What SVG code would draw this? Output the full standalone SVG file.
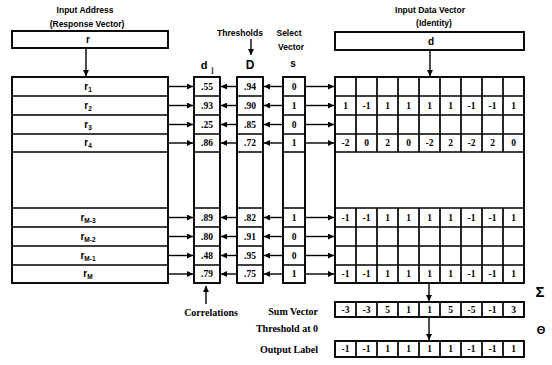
<svg xmlns="http://www.w3.org/2000/svg" width="552" height="365" viewBox="0 0 552 365">
<style>
  .box{fill:#fff;stroke:#000;stroke-width:1.9}
  .ln{stroke:#000;stroke-width:1.7;fill:none}
  .arr{stroke:#000;stroke-width:1.4;fill:none;marker-end:url(#ah)}
  .hd{font-family:"Liberation Sans",Arial,sans-serif;font-weight:bold;font-size:8.5px;text-anchor:middle;fill:#000}
  .lb{font-family:"Liberation Serif","Times New Roman",serif;font-weight:bold;font-size:10px;fill:#000}
  .cell{font-family:"Liberation Serif","Times New Roman",serif;font-weight:bold;font-size:9.5px;text-anchor:middle;fill:#000}
  .sym{font-family:"Liberation Sans",Arial,sans-serif;font-weight:bold;text-anchor:middle;fill:#000}
</style>
<defs>
  <marker id="ah" viewBox="0 0 10 10" refX="10" refY="5" markerWidth="7" markerHeight="6" orient="auto" markerUnits="userSpaceOnUse">
    <path d="M0,0 L10,5 L0,10 z" fill="#000"/>
  </marker>
</defs>

<g id="labels">
  <text class="hd" x="85" y="13">Input Address</text>
  <text class="hd" x="87" y="27">(Response Vector)</text>
  <text class="hd" x="240" y="36">Thresholds</text>
  <text class="hd" x="289" y="36">Select</text>
  <text class="hd" x="291" y="50">Vector</text>
  <text class="hd" x="430" y="13">Input Data Vector</text>
  <text class="hd" x="434" y="26">(Identity)</text>
  <text class="sym" x="207" y="69" font-size="11">d<tspan dx="4" dy="3" font-size="7">j</tspan></text>
  <text class="sym" x="250" y="69" font-size="12">D</text>
  <text class="sym" x="293" y="67" font-size="10">s</text>
  <text class="lb" x="211" y="316" text-anchor="middle">Correlations</text>
  <text class="lb" x="318" y="315" text-anchor="end">Sum Vector</text>
  <text class="lb" x="318" y="332" text-anchor="end" font-size="9">Threshold at 0</text>
  <text class="lb" x="318" y="353" text-anchor="end">Output Label</text>
  <text class="sym" x="540" y="297" font-size="15">Σ</text>
  <text class="sym" x="541" y="334" font-size="11">Θ</text>
</g>

<g id="input-address">
  <rect class="box" x="12" y="31" width="156" height="17"/>
  <text class="sym" x="88" y="43" font-size="10">r</text>
</g>

<g id="input-data">
  <rect class="box" x="335" y="32" width="189" height="18"/>
  <text class="sym" x="431" y="45" font-size="10">d</text>
</g>

<g id="address-rows">
  <rect class="box" x="12" y="77" width="156" height="206"/>
  <path class="ln" d="M12,96H168M12,115H168M12,134H168M12,152H168M12,208H168M12,227H168M12,246H168M12,265H168"/>
  <g class="sym" font-size="10">
    <text x="88" y="90">r<tspan font-size="6.5" dy="2">1</tspan></text>
    <text x="88" y="109">r<tspan font-size="6.5" dy="2">2</tspan></text>
    <text x="88" y="128">r<tspan font-size="6.5" dy="2">3</tspan></text>
    <text x="88" y="146">r<tspan font-size="6.5" dy="2">4</tspan></text>
    <text x="88" y="221">r<tspan font-size="6.5" dy="2">M-3</tspan></text>
    <text x="88" y="240">r<tspan font-size="6.5" dy="2">M-2</tspan></text>
    <text x="88" y="259">r<tspan font-size="6.5" dy="2">M-1</tspan></text>
    <text x="88" y="277">r<tspan font-size="6.5" dy="2">M</tspan></text>
  </g>
</g>

<g id="dj-column">
  <rect class="box" x="194" y="77" width="26" height="206"/>
  <path class="ln" d="M194,96H220M194,115H220M194,134H220M194,152H220M194,208H220M194,227H220M194,246H220M194,265H220"/>
  <g class="cell">
    <text x="207" y="90">.55</text><text x="207" y="109">.93</text><text x="207" y="128">.25</text><text x="207" y="146">.86</text>
    <text x="207" y="221">.89</text><text x="207" y="240">.80</text><text x="207" y="259">.48</text><text x="207" y="277">.79</text>
  </g>
</g>

<g id="D-column">
  <rect class="box" x="237" y="77" width="26" height="206"/>
  <path class="ln" d="M237,96H263M237,115H263M237,134H263M237,152H263M237,208H263M237,227H263M237,246H263M237,265H263"/>
  <g class="cell">
    <text x="250" y="90">.94</text><text x="250" y="109">.90</text><text x="250" y="128">.85</text><text x="250" y="146">.72</text>
    <text x="250" y="221">.82</text><text x="250" y="240">.91</text><text x="250" y="259">.95</text><text x="250" y="277">.75</text>
  </g>
</g>

<g id="s-column">
  <rect class="box" x="283" y="77" width="22" height="206"/>
  <path class="ln" d="M283,96H305M283,115H305M283,134H305M283,152H305M283,208H305M283,227H305M283,246H305M283,265H305"/>
  <g class="cell">
    <text x="294" y="90">0</text><text x="294" y="109">1</text><text x="294" y="128">0</text><text x="294" y="146">1</text>
    <text x="294" y="221">1</text><text x="294" y="240">0</text><text x="294" y="259">0</text><text x="294" y="277">1</text>
  </g>
</g>

<g id="data-matrix">
  <rect class="box" x="335" y="77" width="189" height="206"/>
  <path class="ln" d="M335,96H524M335,115H524M335,134H524M335,152H524M335,208H524M335,227H524M335,246H524M335,265H524"/>
  <path class="ln" d="M356,77V152M377,77V152M398,77V152M419,77V152M440,77V152M461,77V152M482,77V152M503,77V152M356,208V283M377,208V283M398,208V283M419,208V283M440,208V283M461,208V283M482,208V283M503,208V283"/>
  <g class="cell">
    <text x="345.5" y="109">1</text><text x="366.5" y="109">-1</text><text x="387.5" y="109">1</text><text x="408.5" y="109">1</text><text x="429.5" y="109">1</text><text x="450.5" y="109">1</text><text x="471.5" y="109">-1</text><text x="492.5" y="109">-1</text><text x="513.5" y="109">1</text>
    <text x="345.5" y="146">-2</text><text x="366.5" y="146">0</text><text x="387.5" y="146">2</text><text x="408.5" y="146">0</text><text x="429.5" y="146">-2</text><text x="450.5" y="146">2</text><text x="471.5" y="146">-2</text><text x="492.5" y="146">2</text><text x="513.5" y="146">0</text>
    <text x="345.5" y="221">-1</text><text x="366.5" y="221">-1</text><text x="387.5" y="221">1</text><text x="408.5" y="221">1</text><text x="429.5" y="221">1</text><text x="450.5" y="221">1</text><text x="471.5" y="221">-1</text><text x="492.5" y="221">-1</text><text x="513.5" y="221">1</text>
    <text x="345.5" y="277">-1</text><text x="366.5" y="277">-1</text><text x="387.5" y="277">1</text><text x="408.5" y="277">1</text><text x="429.5" y="277">1</text><text x="450.5" y="277">1</text><text x="471.5" y="277">-1</text><text x="492.5" y="277">-1</text><text x="513.5" y="277">1</text>
  </g>
</g>

<g id="sum-vector">
  <rect class="box" x="335" y="302" width="189" height="15"/>
  <path class="ln" d="M356,302V317M377,302V317M398,302V317M419,302V317M440,302V317M461,302V317M482,302V317M503,302V317"/>
  <g class="cell">
    <text x="345.5" y="313">-3</text><text x="366.5" y="313">-3</text><text x="387.5" y="313">5</text><text x="408.5" y="313">1</text><text x="429.5" y="313">1</text><text x="450.5" y="313">5</text><text x="471.5" y="313">-5</text><text x="492.5" y="313">-1</text><text x="513.5" y="313">3</text>
  </g>
</g>

<g id="output-label">
  <rect class="box" x="335" y="341" width="189" height="16"/>
  <path class="ln" d="M356,341V357M377,341V357M398,341V357M419,341V357M440,341V357M461,341V357M482,341V357M503,341V357"/>
  <g class="cell">
    <text x="345.5" y="352">-1</text><text x="366.5" y="352">-1</text><text x="387.5" y="352">1</text><text x="408.5" y="352">1</text><text x="429.5" y="352">1</text><text x="450.5" y="352">1</text><text x="471.5" y="352">-1</text><text x="492.5" y="352">-1</text><text x="513.5" y="352">1</text>
  </g>
</g>

<g id="connectors">
  <line class="arr" x1="86" y1="48" x2="86" y2="76"/>
  <line class="arr" x1="430" y1="50" x2="430" y2="76"/>
  <line class="arr" x1="251" y1="39" x2="251" y2="55"/>
  <line class="arr" x1="206" y1="304" x2="206" y2="286"/>
  <line class="arr" x1="429" y1="284" x2="429" y2="301"/>
  <line class="arr" x1="429" y1="318" x2="429" y2="340"/>
  <g>
    <line class="arr" x1="169" y1="86.5" x2="193" y2="86.5"/>
    <line class="arr" x1="169" y1="105.5" x2="193" y2="105.5"/>
    <line class="arr" x1="169" y1="124.5" x2="193" y2="124.5"/>
    <line class="arr" x1="169" y1="143" x2="193" y2="143"/>
    <line class="arr" x1="169" y1="217.5" x2="193" y2="217.5"/>
    <line class="arr" x1="169" y1="236.5" x2="193" y2="236.5"/>
    <line class="arr" x1="169" y1="255.5" x2="193" y2="255.5"/>
    <line class="arr" x1="169" y1="274" x2="193" y2="274"/>
  </g>
  <g>
    <line class="arr" x1="237" y1="86.5" x2="221" y2="86.5"/>
    <line class="arr" x1="237" y1="105.5" x2="221" y2="105.5"/>
    <line class="arr" x1="237" y1="124.5" x2="221" y2="124.5"/>
    <line class="arr" x1="237" y1="143" x2="221" y2="143"/>
    <line class="arr" x1="237" y1="217.5" x2="221" y2="217.5"/>
    <line class="arr" x1="237" y1="236.5" x2="221" y2="236.5"/>
    <line class="arr" x1="237" y1="255.5" x2="221" y2="255.5"/>
    <line class="arr" x1="237" y1="274" x2="221" y2="274"/>
  </g>
  <g>
    <line class="arr" x1="283" y1="86.5" x2="264" y2="86.5"/>
    <line class="arr" x1="283" y1="105.5" x2="264" y2="105.5"/>
    <line class="arr" x1="283" y1="124.5" x2="264" y2="124.5"/>
    <line class="arr" x1="283" y1="143" x2="264" y2="143"/>
    <line class="arr" x1="283" y1="217.5" x2="264" y2="217.5"/>
    <line class="arr" x1="283" y1="236.5" x2="264" y2="236.5"/>
    <line class="arr" x1="283" y1="255.5" x2="264" y2="255.5"/>
    <line class="arr" x1="283" y1="274" x2="264" y2="274"/>
  </g>
  <g>
    <line class="arr" x1="305" y1="86.5" x2="334" y2="86.5"/>
    <line class="arr" x1="305" y1="105.5" x2="334" y2="105.5"/>
    <line class="arr" x1="305" y1="124.5" x2="334" y2="124.5"/>
    <line class="arr" x1="305" y1="143" x2="334" y2="143"/>
    <line class="arr" x1="305" y1="217.5" x2="334" y2="217.5"/>
    <line class="arr" x1="305" y1="236.5" x2="334" y2="236.5"/>
    <line class="arr" x1="305" y1="255.5" x2="334" y2="255.5"/>
    <line class="arr" x1="305" y1="274" x2="334" y2="274"/>
  </g>
</g>
</svg>
